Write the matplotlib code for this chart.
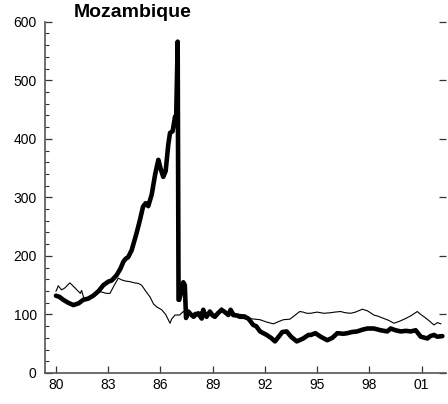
import matplotlib
matplotlib.use('Agg')
import matplotlib.pyplot as plt
from matplotlib.ticker import MultipleLocator, FixedLocator, FuncFormatter

plt.rcParams['font.family'] = ['Liberation Sans', 'DejaVu Sans']

thick_years = [80.0, 80.2, 80.42, 80.7, 81.0, 81.3, 81.57, 81.85, 82.14, 82.45,
               82.72, 83.0, 83.2, 83.48, 83.7, 83.87, 84.0, 84.15, 84.35, 84.63,
               84.82, 85.0, 85.15, 85.3, 85.5, 85.7, 85.88, 86.0, 86.16, 86.3,
               86.45, 86.55, 86.7, 86.84, 86.9, 86.99, 87.04, 87.08, 87.2, 87.31,
               87.4, 87.47, 87.6, 87.75, 87.9, 88.05, 88.17, 88.3, 88.37, 88.46,
               88.55, 88.65, 88.84, 89.0, 89.13, 89.3, 89.51, 89.7, 89.9, 90.03,
               90.18, 90.4, 90.57, 90.8, 91.05, 91.33, 91.5, 91.72, 92.1, 92.35,
               92.58, 92.87, 93.0, 93.25, 93.5, 93.83, 94.2, 94.5, 94.64, 94.9,
               95.2, 95.58, 95.87, 96.16, 96.5, 96.73, 97.0, 97.3, 97.6, 97.88,
               98.26, 98.65, 99.03, 99.22, 99.5, 99.8, 100.1, 100.37, 100.66, 100.95,
               101.33, 101.5, 101.71, 101.9, 102.19]
thick_vals = [132, 130, 125, 120, 116, 119, 125, 127, 132, 140,
              150, 156, 158, 167, 178, 190, 195, 198, 210, 239,
              261, 284, 290, 285, 305, 340, 364, 350, 335, 345,
              390, 410, 413, 438, 430, 566, 125, 125, 140, 155,
              150, 94, 105, 100, 96, 100, 102, 96, 93, 108,
              100, 96, 105, 98, 96, 102, 108, 104, 99, 108,
              99, 98, 96, 96, 93, 82, 80, 71, 65, 60,
              54, 65, 70, 71, 62, 54, 59, 65, 65, 68,
              62, 56, 60, 68, 67, 68, 70, 71, 74, 76,
              76, 73, 71, 76, 73, 71, 72, 71, 73, 62,
              59, 63, 65, 62, 63]

# thin series
thin_years = [80.0, 80.04, 80.13, 80.32, 80.5, 80.8, 81.1, 81.4, 81.47, 81.6,
              81.8, 82.0, 82.2, 82.53, 82.9, 83.1, 83.35, 83.58, 83.77, 84.0,
              84.25, 84.5, 84.73, 84.92, 85.15, 85.4, 85.6, 85.78, 86.07, 86.3,
              86.45, 86.55, 86.64, 86.84, 87.1, 87.31, 87.5, 87.6, 87.8, 88.0,
              88.2, 88.4, 88.6, 88.84, 89.1, 89.3, 89.5, 89.7, 89.9, 90.1,
              90.3, 90.6, 90.9, 91.14, 91.4, 91.72, 92.1, 92.49, 92.8, 93.06,
              93.44, 93.7, 94.0, 94.2, 94.4, 94.62, 95.0, 95.39, 95.8, 96.0,
              96.35, 96.6, 96.92, 97.2, 97.6, 97.9, 98.26, 98.5, 98.84, 99.1,
              99.41, 99.7, 100.08, 100.4, 100.75, 100.95, 101.14, 101.4, 101.71, 101.9,
              102.1]
thin_vals = [140, 142, 149, 142, 145, 154, 145, 136, 141, 128,
             125, 128, 134, 139, 136, 136, 150, 162, 159, 157,
             156, 154, 153, 150, 140, 130, 118, 113, 108, 100,
             91, 85, 92, 99, 99, 105, 100, 106, 100, 104,
             100, 108, 100, 106, 100, 104, 111, 106, 102, 108,
             101, 100, 99, 93, 92, 91, 87, 84, 88, 91,
             92, 98, 105, 104, 102, 102, 104, 102, 103, 104,
             105, 103, 102, 104, 109, 106, 99, 97, 93, 90,
             85, 88, 93, 98, 105, 100, 96, 90, 82, 86,
             84]

x_ticks = [80, 83, 86, 89, 92, 95, 98, 101]

fig = plt.figure(figsize=(4.48, 4.04), dpi=100)
ax = fig.add_axes([45 / 448, 31 / 404, 401 / 448, 351.3 / 404])

ax.plot(thin_years, thin_vals, color='black', linewidth=0.8, zorder=3)
ax.plot(thick_years, thick_vals, color='black', linewidth=3.3,
        solid_joinstyle='round', solid_capstyle='round', zorder=4)

ax.set_xlim(79.37, 102.4)
ax.set_ylim(0, 600)

for s in ['top', 'right']:
    ax.spines[s].set_visible(False)
for s in ['left', 'bottom']:
    ax.spines[s].set_color('#555555')
    ax.spines[s].set_linewidth(1.2)

ax.xaxis.set_major_locator(FixedLocator(x_ticks))
ax.xaxis.set_major_formatter(FuncFormatter(lambda v, p: '%02d' % (int(round(v)) % 100)))
ax.yaxis.set_major_locator(MultipleLocator(100))
ax.yaxis.set_minor_locator(MultipleLocator(20))

ax.tick_params(axis='x', which='major', direction='in', length=5, width=0.9,
               color='#333333', labelsize=10, pad=3.5)
ax.tick_params(axis='y', which='major', direction='in', length=5, width=0.9,
               color='#333333', labelsize=10, pad=6, right=True)
ax.tick_params(axis='y', which='minor', direction='in', length=3, width=0.8,
               color='#333333', right=False)

fig.text(133 / 448, 1 - 12.5 / 404, 'Mozambique', ha='center', va='center',
         fontsize=14, fontweight='bold')

fig.savefig('out.png', dpi=100)
